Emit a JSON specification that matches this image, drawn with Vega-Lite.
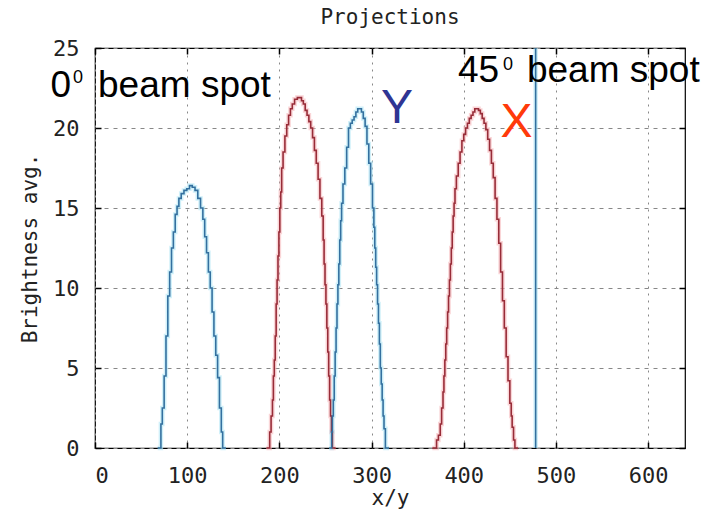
{
  "$schema": "https://vega.github.io/schema/vega-lite/v6.json",
  "width": 590,
  "height": 400,
  "autosize": "none",
  "padding": {"left": 95, "top": 48, "right": 19, "bottom": 70},
  "background": "white",
  "config": {
    "view": {"stroke": "black", "strokeWidth": 1.2},
    "axis": {
      "labelFont": "DejaVu Sans Mono",
      "titleFont": "DejaVu Sans Mono",
      "labelFontSize": 22,
      "titleFontSize": 21,
      "titleFontWeight": "normal",
      "labelColor": "#222",
      "titleColor": "#222",
      "domainColor": "black",
      "tickColor": "black",
      "tickSize": -6,
      "tickWidth": 1.5,
      "gridColor": "#888",
      "gridWidth": 1
    },
    "title": {"font": "DejaVu Sans Mono", "fontSize": 21, "fontWeight": "normal", "color": "#222", "offset": 9}
  },
  "title": {"text": "Projections", "anchor": "middle"},
  "datasets": {
    "curves": [
      {"x": 68, "y": 0, "proj": "Y", "seg": "a"},
      {"x": 71, "y": 0, "proj": "Y", "seg": "a"},
      {"x": 72, "y": 1.5, "proj": "Y", "seg": "a"},
      {"x": 74, "y": 2.5, "proj": "Y", "seg": "a"},
      {"x": 76, "y": 4.5, "proj": "Y", "seg": "a"},
      {"x": 78, "y": 7, "proj": "Y", "seg": "a"},
      {"x": 80, "y": 9.5, "proj": "Y", "seg": "a"},
      {"x": 82, "y": 11, "proj": "Y", "seg": "a"},
      {"x": 84, "y": 12.5, "proj": "Y", "seg": "a"},
      {"x": 86, "y": 13.5, "proj": "Y", "seg": "a"},
      {"x": 88, "y": 14.6, "proj": "Y", "seg": "a"},
      {"x": 90, "y": 15.1, "proj": "Y", "seg": "a"},
      {"x": 92, "y": 15.6, "proj": "Y", "seg": "a"},
      {"x": 95, "y": 15.9, "proj": "Y", "seg": "a"},
      {"x": 98, "y": 16.1, "proj": "Y", "seg": "a"},
      {"x": 101, "y": 16.2, "proj": "Y", "seg": "a"},
      {"x": 104, "y": 16.4, "proj": "Y", "seg": "a"},
      {"x": 107, "y": 16.3, "proj": "Y", "seg": "a"},
      {"x": 110, "y": 16.1, "proj": "Y", "seg": "a"},
      {"x": 113, "y": 15.6, "proj": "Y", "seg": "a"},
      {"x": 116, "y": 15.0, "proj": "Y", "seg": "a"},
      {"x": 118, "y": 14.3, "proj": "Y", "seg": "a"},
      {"x": 120, "y": 13.2, "proj": "Y", "seg": "a"},
      {"x": 122, "y": 12.2, "proj": "Y", "seg": "a"},
      {"x": 124, "y": 11, "proj": "Y", "seg": "a"},
      {"x": 126, "y": 10, "proj": "Y", "seg": "a"},
      {"x": 128, "y": 8.5, "proj": "Y", "seg": "a"},
      {"x": 130, "y": 7, "proj": "Y", "seg": "a"},
      {"x": 132, "y": 5.8, "proj": "Y", "seg": "a"},
      {"x": 134, "y": 4.4, "proj": "Y", "seg": "a"},
      {"x": 136, "y": 2.5, "proj": "Y", "seg": "a"},
      {"x": 138, "y": 1, "proj": "Y", "seg": "a"},
      {"x": 139, "y": 0, "proj": "Y", "seg": "a"},
      {"x": 142, "y": 0, "proj": "Y", "seg": "a"},

      {"x": 186, "y": 0, "proj": "X", "seg": "b"},
      {"x": 189, "y": 0, "proj": "X", "seg": "b"},
      {"x": 190, "y": 1, "proj": "X", "seg": "b"},
      {"x": 192, "y": 2, "proj": "X", "seg": "b"},
      {"x": 193, "y": 3, "proj": "X", "seg": "b"},
      {"x": 194, "y": 4.5, "proj": "X", "seg": "b"},
      {"x": 195, "y": 5.5, "proj": "X", "seg": "b"},
      {"x": 196, "y": 7, "proj": "X", "seg": "b"},
      {"x": 197, "y": 9, "proj": "X", "seg": "b"},
      {"x": 198, "y": 10.5, "proj": "X", "seg": "b"},
      {"x": 199, "y": 12, "proj": "X", "seg": "b"},
      {"x": 200, "y": 13.5, "proj": "X", "seg": "b"},
      {"x": 201, "y": 15, "proj": "X", "seg": "b"},
      {"x": 202, "y": 16, "proj": "X", "seg": "b"},
      {"x": 203, "y": 17.5, "proj": "X", "seg": "b"},
      {"x": 205, "y": 18.5, "proj": "X", "seg": "b"},
      {"x": 207, "y": 19.5, "proj": "X", "seg": "b"},
      {"x": 209, "y": 20.2, "proj": "X", "seg": "b"},
      {"x": 211, "y": 20.8, "proj": "X", "seg": "b"},
      {"x": 213, "y": 21.2, "proj": "X", "seg": "b"},
      {"x": 215, "y": 21.5, "proj": "X", "seg": "b"},
      {"x": 218, "y": 21.8, "proj": "X", "seg": "b"},
      {"x": 221, "y": 21.9, "proj": "X", "seg": "b"},
      {"x": 223, "y": 21.9, "proj": "X", "seg": "b"},
      {"x": 225, "y": 21.7, "proj": "X", "seg": "b"},
      {"x": 227, "y": 21.5, "proj": "X", "seg": "b"},
      {"x": 229, "y": 21.1, "proj": "X", "seg": "b"},
      {"x": 231, "y": 20.8, "proj": "X", "seg": "b"},
      {"x": 233, "y": 20.4, "proj": "X", "seg": "b"},
      {"x": 235, "y": 20, "proj": "X", "seg": "b"},
      {"x": 237, "y": 19.4, "proj": "X", "seg": "b"},
      {"x": 239, "y": 18.6, "proj": "X", "seg": "b"},
      {"x": 241, "y": 17.8, "proj": "X", "seg": "b"},
      {"x": 243, "y": 16.8, "proj": "X", "seg": "b"},
      {"x": 245, "y": 15.6, "proj": "X", "seg": "b"},
      {"x": 247, "y": 14.5, "proj": "X", "seg": "b"},
      {"x": 248, "y": 13, "proj": "X", "seg": "b"},
      {"x": 249, "y": 11.5, "proj": "X", "seg": "b"},
      {"x": 250, "y": 10.2, "proj": "X", "seg": "b"},
      {"x": 251, "y": 9, "proj": "X", "seg": "b"},
      {"x": 252, "y": 7.5, "proj": "X", "seg": "b"},
      {"x": 253, "y": 6, "proj": "X", "seg": "b"},
      {"x": 254, "y": 4.5, "proj": "X", "seg": "b"},
      {"x": 255, "y": 3, "proj": "X", "seg": "b"},
      {"x": 256, "y": 2, "proj": "X", "seg": "b"},
      {"x": 257, "y": 1, "proj": "X", "seg": "b"},
      {"x": 258, "y": 0, "proj": "X", "seg": "b"},
      {"x": 261, "y": 0, "proj": "X", "seg": "b"},

      {"x": 254, "y": 0, "proj": "Y", "seg": "c"},
      {"x": 256.5, "y": 0, "proj": "Y", "seg": "c"},
      {"x": 257, "y": 1, "proj": "Y", "seg": "c"},
      {"x": 258, "y": 2, "proj": "Y", "seg": "c"},
      {"x": 259, "y": 3, "proj": "Y", "seg": "c"},
      {"x": 260, "y": 4.5, "proj": "Y", "seg": "c"},
      {"x": 261, "y": 6, "proj": "Y", "seg": "c"},
      {"x": 262, "y": 7.5, "proj": "Y", "seg": "c"},
      {"x": 263, "y": 9, "proj": "Y", "seg": "c"},
      {"x": 264, "y": 10.2, "proj": "Y", "seg": "c"},
      {"x": 265, "y": 11.5, "proj": "Y", "seg": "c"},
      {"x": 266, "y": 13, "proj": "Y", "seg": "c"},
      {"x": 267, "y": 14.2, "proj": "Y", "seg": "c"},
      {"x": 268, "y": 15.3, "proj": "Y", "seg": "c"},
      {"x": 270, "y": 16.5, "proj": "Y", "seg": "c"},
      {"x": 272, "y": 17.5, "proj": "Y", "seg": "c"},
      {"x": 274, "y": 18.8, "proj": "Y", "seg": "c"},
      {"x": 276, "y": 20, "proj": "Y", "seg": "c"},
      {"x": 278, "y": 20.3, "proj": "Y", "seg": "c"},
      {"x": 280, "y": 20.5, "proj": "Y", "seg": "c"},
      {"x": 282, "y": 20.7, "proj": "Y", "seg": "c"},
      {"x": 284, "y": 21, "proj": "Y", "seg": "c"},
      {"x": 286, "y": 21.2, "proj": "Y", "seg": "c"},
      {"x": 288, "y": 21.2, "proj": "Y", "seg": "c"},
      {"x": 290, "y": 21, "proj": "Y", "seg": "c"},
      {"x": 292, "y": 20.6, "proj": "Y", "seg": "c"},
      {"x": 294, "y": 20.1, "proj": "Y", "seg": "c"},
      {"x": 296, "y": 19, "proj": "Y", "seg": "c"},
      {"x": 298, "y": 17.8, "proj": "Y", "seg": "c"},
      {"x": 300, "y": 16.5, "proj": "Y", "seg": "c"},
      {"x": 302, "y": 15, "proj": "Y", "seg": "c"},
      {"x": 303, "y": 13.8, "proj": "Y", "seg": "c"},
      {"x": 304, "y": 12.5, "proj": "Y", "seg": "c"},
      {"x": 305, "y": 11.3, "proj": "Y", "seg": "c"},
      {"x": 306, "y": 10.2, "proj": "Y", "seg": "c"},
      {"x": 307, "y": 9, "proj": "Y", "seg": "c"},
      {"x": 308, "y": 7.8, "proj": "Y", "seg": "c"},
      {"x": 309, "y": 6.5, "proj": "Y", "seg": "c"},
      {"x": 310, "y": 5, "proj": "Y", "seg": "c"},
      {"x": 311, "y": 4, "proj": "Y", "seg": "c"},
      {"x": 312, "y": 3, "proj": "Y", "seg": "c"},
      {"x": 313, "y": 2, "proj": "Y", "seg": "c"},
      {"x": 314, "y": 1.2, "proj": "Y", "seg": "c"},
      {"x": 316, "y": 0, "proj": "Y", "seg": "c"},
      {"x": 319, "y": 0, "proj": "Y", "seg": "c"},

      {"x": 366, "y": 0, "proj": "X", "seg": "d"},
      {"x": 370, "y": 0, "proj": "X", "seg": "d"},
      {"x": 371, "y": 0.5, "proj": "X", "seg": "d"},
      {"x": 374, "y": 0.8, "proj": "X", "seg": "d"},
      {"x": 375, "y": 1.5, "proj": "X", "seg": "d"},
      {"x": 377, "y": 2.5, "proj": "X", "seg": "d"},
      {"x": 378, "y": 3.5, "proj": "X", "seg": "d"},
      {"x": 379, "y": 4.5, "proj": "X", "seg": "d"},
      {"x": 380, "y": 5.5, "proj": "X", "seg": "d"},
      {"x": 381, "y": 6.5, "proj": "X", "seg": "d"},
      {"x": 382, "y": 7.5, "proj": "X", "seg": "d"},
      {"x": 383, "y": 8.5, "proj": "X", "seg": "d"},
      {"x": 384, "y": 9.5, "proj": "X", "seg": "d"},
      {"x": 385, "y": 10.5, "proj": "X", "seg": "d"},
      {"x": 386, "y": 11.5, "proj": "X", "seg": "d"},
      {"x": 387, "y": 12.5, "proj": "X", "seg": "d"},
      {"x": 388, "y": 13.5, "proj": "X", "seg": "d"},
      {"x": 389, "y": 14.5, "proj": "X", "seg": "d"},
      {"x": 390, "y": 15.3, "proj": "X", "seg": "d"},
      {"x": 391, "y": 16.2, "proj": "X", "seg": "d"},
      {"x": 393, "y": 17, "proj": "X", "seg": "d"},
      {"x": 395, "y": 17.8, "proj": "X", "seg": "d"},
      {"x": 397, "y": 18.5, "proj": "X", "seg": "d"},
      {"x": 399, "y": 19.2, "proj": "X", "seg": "d"},
      {"x": 401, "y": 19.6, "proj": "X", "seg": "d"},
      {"x": 403, "y": 20, "proj": "X", "seg": "d"},
      {"x": 405, "y": 20.3, "proj": "X", "seg": "d"},
      {"x": 407, "y": 20.6, "proj": "X", "seg": "d"},
      {"x": 409, "y": 20.8, "proj": "X", "seg": "d"},
      {"x": 411, "y": 21, "proj": "X", "seg": "d"},
      {"x": 413, "y": 21.2, "proj": "X", "seg": "d"},
      {"x": 415, "y": 21.2, "proj": "X", "seg": "d"},
      {"x": 417, "y": 21.1, "proj": "X", "seg": "d"},
      {"x": 419, "y": 20.9, "proj": "X", "seg": "d"},
      {"x": 421, "y": 20.6, "proj": "X", "seg": "d"},
      {"x": 423, "y": 20.3, "proj": "X", "seg": "d"},
      {"x": 425, "y": 19.9, "proj": "X", "seg": "d"},
      {"x": 427, "y": 19.3, "proj": "X", "seg": "d"},
      {"x": 429, "y": 18.6, "proj": "X", "seg": "d"},
      {"x": 431, "y": 17.8, "proj": "X", "seg": "d"},
      {"x": 433, "y": 16.9, "proj": "X", "seg": "d"},
      {"x": 435, "y": 15.6, "proj": "X", "seg": "d"},
      {"x": 437, "y": 14.3, "proj": "X", "seg": "d"},
      {"x": 439, "y": 12.8, "proj": "X", "seg": "d"},
      {"x": 441, "y": 11, "proj": "X", "seg": "d"},
      {"x": 443, "y": 9.2, "proj": "X", "seg": "d"},
      {"x": 445, "y": 7.5, "proj": "X", "seg": "d"},
      {"x": 447, "y": 5.7, "proj": "X", "seg": "d"},
      {"x": 449, "y": 4.2, "proj": "X", "seg": "d"},
      {"x": 451, "y": 2.8, "proj": "X", "seg": "d"},
      {"x": 452, "y": 2, "proj": "X", "seg": "d"},
      {"x": 453, "y": 1.3, "proj": "X", "seg": "d"},
      {"x": 455, "y": 0.5, "proj": "X", "seg": "d"},
      {"x": 456, "y": 0, "proj": "X", "seg": "d"},
      {"x": 459, "y": 0, "proj": "X", "seg": "d"},

      {"x": 478, "y": 0, "proj": "Y", "seg": "e"},
      {"x": 478, "y": 25, "proj": "Y", "seg": "e"}
    ],
    "big": [
      {"t": "0", "x": -48.3, "y": 21.94},
      {"t": "beam spot", "x": 3.3, "y": 21.94},
      {"t": "45", "x": 393.7, "y": 22.9},
      {"t": "beam spot", "x": 468.5, "y": 22.9}
    ],
    "sup": [
      {"t": "0", "x": -23.9, "y": 22.8},
      {"t": "0", "x": 442.5, "y": 23.6}
    ],
    "xy": [
      {"t": "Y", "x": 327.5, "y": 20.33},
      {"t": "X", "x": 457.3, "y": 19.42}
    ]
  },
  "resolve": {"axis": {"x": "independent", "y": "independent"}},
  "layer": [
    {
      "data": {"name": "curves"},
      "mark": {"type": "line", "interpolate": "step", "strokeWidth": 4.5, "opacity": 0.55},
      "encoding": {
        "x": {"field": "x", "type": "quantitative", "scale": {"domain": [0, 640], "nice": false, "zero": false},
          "axis": {"orient": "bottom", "values": [0, 100, 200, 300, 400, 500, 600], "grid": true, "gridDash": [2, 5], "title": "x/y", "labelPadding": 23, "labelDx": 4, "titlePadding": 1, "domain": false}},
        "y": {"field": "y", "type": "quantitative", "scale": {"domain": [0, 25], "nice": false},
          "axis": {"orient": "left", "values": [0, 5, 10, 15, 20, 25], "grid": true, "gridDash": [4, 5], "title": "Brightness avg.", "labelPadding": 22, "titlePadding": 12, "domain": false}},
        "color": {"field": "proj", "type": "nominal", "scale": {"domain": ["Y", "X"], "range": ["#a9e3f4", "#f5b2b6"]}, "legend": null},
        "detail": {"field": "seg"}
      }
    },
    {
      "data": {"name": "curves"},
      "mark": {"type": "line", "interpolate": "step", "strokeWidth": 1.6},
      "encoding": {
        "x": {"field": "x", "type": "quantitative", "scale": {"domain": [0, 640], "nice": false, "zero": false},
          "axis": {"orient": "top", "values": [0, 100, 200, 300, 400, 500, 600], "labels": false, "grid": false, "title": null, "domain": false}},
        "y": {"field": "y", "type": "quantitative", "scale": {"domain": [0, 25], "nice": false},
          "axis": {"orient": "right", "values": [0, 5, 10, 15, 20, 25], "labels": false, "grid": false, "title": null, "domain": false}},
        "stroke": {"field": "proj", "type": "nominal", "scale": {"domain": ["Y", "X"], "range": ["#33709f", "#982c38"]}, "legend": null},
        "detail": {"field": "seg"}
      }
    },
    {
      "data": {"name": "big"},
      "mark": {"type": "text", "font": "Liberation Sans", "fontSize": 37, "align": "left", "baseline": "alphabetic", "color": "black"},
      "encoding": {
        "x": {"field": "x", "type": "quantitative", "axis": null},
        "y": {"field": "y", "type": "quantitative", "axis": null},
        "text": {"field": "t"}
      }
    },
    {
      "data": {"name": "sup"},
      "mark": {"type": "text", "font": "Liberation Sans", "fontSize": 18, "align": "left", "baseline": "alphabetic", "color": "black"},
      "encoding": {
        "x": {"field": "x", "type": "quantitative", "axis": null},
        "y": {"field": "y", "type": "quantitative", "axis": null},
        "text": {"field": "t"}
      }
    },
    {
      "data": {"name": "xy"},
      "mark": {"type": "text", "font": "Liberation Sans", "fontSize": 48, "align": "center", "baseline": "alphabetic"},
      "encoding": {
        "x": {"field": "x", "type": "quantitative", "axis": null},
        "y": {"field": "y", "type": "quantitative", "axis": null},
        "text": {"field": "t"},
        "fill": {"field": "t", "type": "nominal", "scale": {"domain": ["Y", "X"], "range": ["#2f3593", "#ff3a0a"]}, "legend": null}
      }
    }
  ]
}
